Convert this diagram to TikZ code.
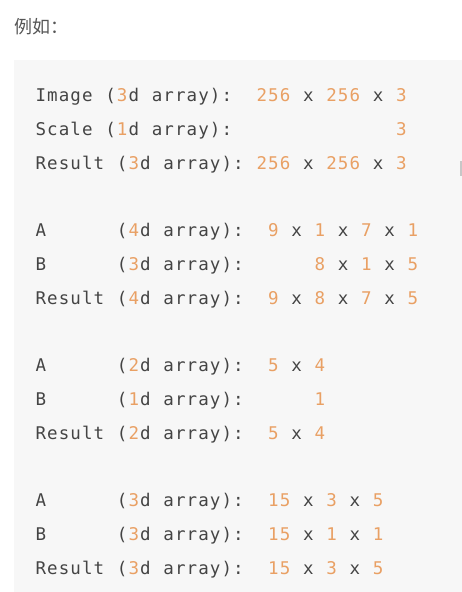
\documentclass[tikz,border=0pt]{standalone}
\usepackage{fontspec}
\newfontfamily\monof{DejaVu Sans Mono}
\newfontfamily\cjkf{Noto Sans CJK SC}
\definecolor{numc}{HTML}{E9A064}
\definecolor{txtc}{HTML}{444444}
\definecolor{headc}{HTML}{555555}
\definecolor{boxc}{HTML}{F7F7F7}
\newlength\cellw
\setlength\cellw{11.63pt}
\makeatletter
\def\mymchar#1{\ifnum`#1>47 \ifnum`#1<58 \textcolor{numc}{#1}\else #1\fi\else #1\fi}
\def\mymonoloop#1{\ifx#1\mymonoend\else\hbox to\cellw{\hss\ifx#1_\else\mymchar#1\fi\hss}\expandafter\mymonoloop\fi}
\def\mymonoend{\relax}
\newcommand\mymono[1]{\mymonoloop#1\mymonoend}
\makeatother
\tikzset{
  codeline/.style={anchor=base west, inner sep=0pt, outer sep=0pt, text=txtc,
    font=\monof\fontsize{17.5}{17.5}\selectfont},
  heading/.style={anchor=base west, inner sep=0pt, text=headc,
    font=\cjkf\fontsize{18}{18}\selectfont}
}
\begin{document}
\begin{tikzpicture}[x=1pt,y=-1pt]
\useasboundingbox (0,0) rectangle (462,592);
\fill[white] (0,0) rectangle (462,592);
\fill[boxc] (14,60) rectangle (462,592);
\fill[black!22] (459.5,161) rectangle (462,176);
\node[heading] (head) at (14,33) {例如：};
\def\lx{35}
\node[codeline] (a1) at (\lx,101.50) {\mymono{Image_(3d_array):__256_x_256_x_3}};
\node[codeline] (a2) at (\lx,135.25) {\mymono{Scale_(1d_array):______________3}};
\node[codeline] (a3) at (\lx,169.00) {\mymono{Result_(3d_array):_256_x_256_x_3}};
\node[codeline] (b1) at (\lx,236.50) {\mymono{A______(4d_array):__9_x_1_x_7_x_1}};
\node[codeline] (b2) at (\lx,270.25) {\mymono{B______(3d_array):______8_x_1_x_5}};
\node[codeline] (b3) at (\lx,304.00) {\mymono{Result_(4d_array):__9_x_8_x_7_x_5}};
\node[codeline] (c1) at (\lx,371.50) {\mymono{A______(2d_array):__5_x_4}};
\node[codeline] (c2) at (\lx,405.25) {\mymono{B______(1d_array):______1}};
\node[codeline] (c3) at (\lx,439.00) {\mymono{Result_(2d_array):__5_x_4}};
\node[codeline] (d1) at (\lx,506.50) {\mymono{A______(3d_array):__15_x_3_x_5}};
\node[codeline] (d2) at (\lx,540.25) {\mymono{B______(3d_array):__15_x_1_x_1}};
\node[codeline] (d3) at (\lx,574.00) {\mymono{Result_(3d_array):__15_x_3_x_5}};
\end{tikzpicture}
\end{document}
